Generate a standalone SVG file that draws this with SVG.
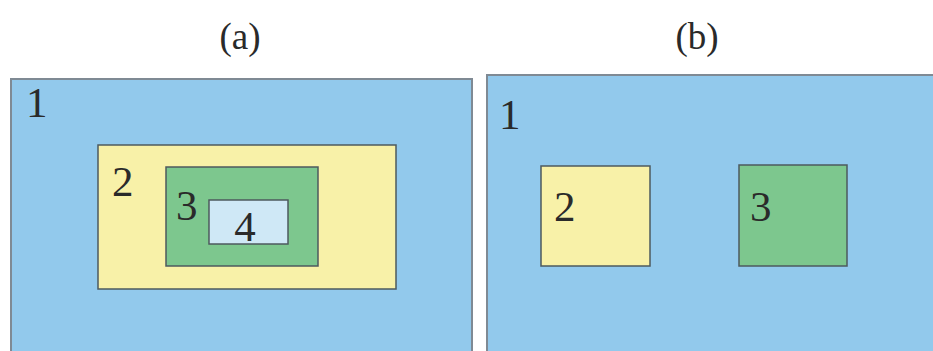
<svg xmlns="http://www.w3.org/2000/svg" width="933" height="351" viewBox="0 0 933 351">
<style>
.t{font-family:"Liberation Serif","Times New Roman",serif;fill:#2a2a2a}
.d{font-size:43px}
.h{font-size:37px;text-anchor:middle}
.panel{fill:#92c9ec;stroke:#7f8a94;stroke-width:2}
.box{stroke:#4d5a5e;stroke-width:1.5}
</style>
<rect width="933" height="351" fill="#ffffff"/>
<text class="t h" x="240" y="49">(a)</text>
<text class="t h" x="697" y="49">(b)</text>
<g id="a1">
<rect class="panel" x="11" y="79" width="461" height="290"/>
<text class="t d" x="26" y="117">1</text>
</g>
<g id="a2">
<rect class="box" x="98" y="145" width="298" height="144" fill="#f8f1a8"/>
<text class="t d" x="112" y="196">2</text>
</g>
<g id="a3">
<rect class="box" x="166" y="167" width="152" height="99" fill="#7dc78e"/>
<text class="t d" x="176" y="220">3</text>
</g>
<g id="a4">
<rect class="box" x="209" y="200" width="79" height="44" fill="#cfe8f6"/>
<text class="t d" x="245" y="241" text-anchor="middle">4</text>
</g>
<g id="b1">
<rect class="panel" x="487" y="75" width="470" height="300"/>
<text class="t d" x="499" y="129">1</text>
</g>
<g id="b2">
<rect class="box" x="541" y="166" width="109" height="100" fill="#f8f1a8"/>
<text class="t d" x="554" y="221">2</text>
</g>
<g id="b3">
<rect class="box" x="739" y="165" width="108" height="101" fill="#7dc78e"/>
<text class="t d" x="750" y="221">3</text>
</g>
<g id="connectors"/>
</svg>
